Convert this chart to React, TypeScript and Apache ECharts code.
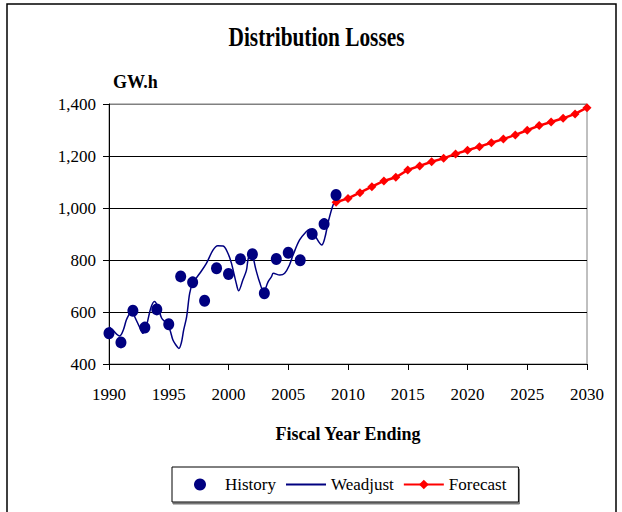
import React, { useEffect, useRef } from "react";
import * as echarts from "echarts";

const historyYears = [1990, 1991, 1992, 1993, 1994, 1995, 1996, 1997, 1998, 1999, 2000, 2001, 2002, 2003, 2004, 2005, 2006, 2007, 2008, 2009];
const historyValues = [518, 483, 605, 540, 610, 553, 737, 714, 643, 768, 746, 803, 822, 672, 804, 828, 799, 900, 938, 1050];

const weadjustYears = [
  1990.0, 1990.3, 1990.9, 1991.2, 1991.45, 1991.73, 1991.9, 1992.2, 1992.6, 1992.85,
  1993.15, 1993.5, 1993.8, 1994.1, 1994.4, 1994.8, 1995.1, 1995.35, 1995.6, 1995.85,
  1996.05, 1996.25, 1996.5, 1996.75, 1997.0, 1997.6, 1998.15, 1998.7, 1999.1, 1999.55,
  1999.95, 2000.25, 2000.65, 2000.85, 2001.2, 2001.5, 2001.65, 2001.9, 2002.3, 2002.6,
  2002.95, 2003.3, 2003.6, 2003.75, 2004.3, 2004.7, 2005.1, 2005.4, 2005.95, 2006.5,
  2006.8, 2007.2, 2007.8, 2008.05, 2008.35, 2008.75, 2009.0,
];
const weadjustValues = [
  543, 531, 508, 531, 569, 595, 604, 577, 538, 518,
  550, 615, 640, 620, 577, 557, 531, 492, 473, 460,
  481, 531, 582, 672, 710, 749, 787, 838, 855, 854,
  826, 787, 710, 682, 723, 760, 805, 826, 762, 715,
  678, 715, 736, 749, 742, 749, 781, 819, 877, 909,
  918, 896, 858, 883, 947, 1012, 1030,
];

const forecastYears = [2009, 2010, 2011, 2012, 2013, 2014, 2015, 2016, 2017, 2018, 2019, 2020, 2021, 2022, 2023, 2024, 2025, 2026, 2027, 2028, 2029, 2030];
const forecastValues = [1022, 1037, 1059, 1082, 1104, 1118, 1146, 1162, 1178, 1191, 1208, 1222, 1236, 1251, 1265, 1281, 1299, 1317, 1331, 1345, 1362, 1386];

const titleText = "Distribution Losses";
const yAxisName = "GW.h";
const xAxisName = "Fiscal Year Ending";

const FONT = '"Liberation Serif", "Times New Roman", serif';

export default function App() {
  const ref = useRef<HTMLDivElement>(null);

  useEffect(() => {
    if (!ref.current) return;
    const chart = echarts.init(ref.current, null, { renderer: "svg" });
    const zip = (xs: number[], ys: number[]) => xs.map((x, i) => [x, ys[i]]);

    chart.setOption({
      animation: false,
      backgroundColor: "#fff",
      textStyle: { fontFamily: FONT },
      graphic: [
        {
          type: "rect",
          shape: { x: 7, y: 4, width: 609, height: 540 },
          style: { fill: "none", stroke: "#000", lineWidth: 1.5 },
          silent: true,
          z: -1,
        },
        {
          type: "text",
          x: 316.5,
          y: 37,
          scaleX: 0.79,
          silent: true,
          style: {
            text: titleText,
            x: 0,
            y: 0,
            textAlign: "center",
            textVerticalAlign: "middle",
            fontFamily: FONT,
            fontSize: 27,
            fontWeight: "bold",
            fill: "#000",
          },
        },
      ],
      grid: {
        left: 109,
        right: 35,
        top: 104,
        bottom: 148,
        show: true,
        borderColor: "#808080",
        borderWidth: 1,
        backgroundColor: "transparent",
      },
      legend: {
        left: 172,
        top: 467,
        orient: "horizontal",
        data: [
          { name: "History", icon: "circle" },
          { name: "Weadjust", itemStyle: { opacity: 0 } },
          { name: "Forecast" },
        ],
        itemWidth: 40,
        itemHeight: 12,
        itemGap: 9,
        padding: [9, 12, 9, 22],
        borderColor: "#000",
        borderWidth: 1,
        backgroundColor: "#fff",
        shadowColor: "#777",
        shadowOffsetX: 1,
        shadowOffsetY: 2,
        shadowBlur: 0,
        textStyle: { fontFamily: FONT, fontSize: 17, color: "#000" },
      },
      xAxis: {
        type: "value",
        min: 1990,
        max: 2030,
        interval: 5,
        name: xAxisName,
        nameLocation: "middle",
        nameGap: 61,
        nameTextStyle: { fontFamily: FONT, fontSize: 18, fontWeight: "bold", color: "#000" },
        axisLine: { show: true, onZero: false, lineStyle: { color: "#000", width: 1 } },
        axisTick: { show: true, inside: false, length: 6, lineStyle: { color: "#000" } },
        axisLabel: {
          fontFamily: FONT,
          fontSize: 17,
          color: "#000",
          margin: 22,
          formatter: (v: number) => String(v),
        },
        splitLine: { show: false },
      },
      yAxis: {
        type: "value",
        min: 400,
        max: 1400,
        interval: 200,
        name: yAxisName,
        nameLocation: "end",
        nameGap: 22,
        nameTextStyle: {
          fontFamily: FONT,
          fontSize: 18,
          fontWeight: "bold",
          color: "#000",
          align: "left",
          verticalAlign: "middle",
          padding: [0, 0, 0, 4],
        },
        axisLine: { show: true, lineStyle: { color: "#000", width: 1 } },
        axisTick: { show: true, inside: false, length: 6, lineStyle: { color: "#000" } },
        axisLabel: {
          fontFamily: FONT,
          fontSize: 17,
          color: "#000",
          margin: 13,
          formatter: (v: number) => v.toLocaleString("en-US"),
        },
        splitLine: {
          show: true,
          lineStyle: { color: ["#000", "#000", "#000", "#000", "#000", "#808080"], width: 1 },
        },
      },
      series: [
        {
          name: "Weadjust",
          type: "line",
          data: zip(weadjustYears, weadjustValues),
          showSymbol: false,
          symbol: "none",
          smooth: 0.35,
          lineStyle: { color: "#000080", width: 1.5 },
          itemStyle: { color: "#000080" },
          z: 2,
        },
        {
          name: "Forecast",
          type: "line",
          data: zip(forecastYears, forecastValues),
          symbol: "diamond",
          symbolSize: 9,
          lineStyle: { color: "#FF0000", width: 2.5 },
          itemStyle: { color: "#FF0000" },
          z: 3,
        },
        {
          name: "History",
          type: "scatter",
          data: zip(historyYears, historyValues),
          symbol: "circle",
          symbolSize: [11, 12],
          itemStyle: { color: "#000080", opacity: 1 },
          z: 4,
        },
      ],
    });

    return () => chart.dispose();
  }, []);

  return (
    <div
      ref={ref}
      style={{ position: "fixed", left: 0, top: 0, width: 622, height: 512, background: "#fff" }}
    />
  );
}
